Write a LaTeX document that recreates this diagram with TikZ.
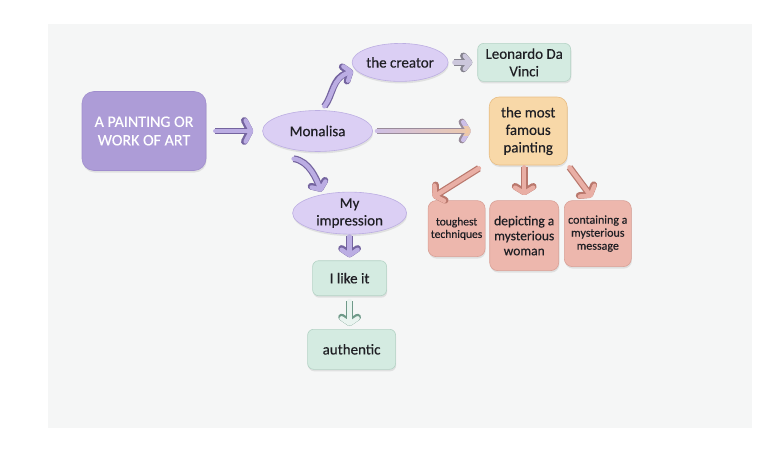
\documentclass[tikz,border=0pt]{standalone}
\usepackage{fontspec}
\setmainfont{Carlito}[FakeBold=0.35]
\usetikzlibrary{arrows.meta, positioning, calc, shapes.geometric, shadows, fadings}

\definecolor{panel}{HTML}{F5F6F6}
\definecolor{ink}{HTML}{1F1F24}
\definecolor{artfill}{HTML}{AD9CD7}
\definecolor{artline}{HTML}{A08ECE}
\definecolor{lilac}{HTML}{DBCFF4}
\definecolor{lilacline}{HTML}{BCAEE2}
\definecolor{mintfill}{HTML}{D4EBE1}
\definecolor{mintline}{HTML}{B4D3C5}
\definecolor{peach}{HTML}{F8D8A8}
\definecolor{peachline}{HTML}{E8BE85}
\definecolor{salmon}{HTML}{EDB7AD}
\definecolor{salmonline}{HTML}{D9A096}
\definecolor{purpline}{HTML}{74649F}
\definecolor{purpfill}{HTML}{BBADE3}
\definecolor{blendline}{HTML}{998B9A}
\definecolor{blendfill}{HTML}{CDBFE8}
\definecolor{peachfill}{HTML}{F3CBA0}
\definecolor{greyline}{HTML}{85838F}
\definecolor{greyfill}{HTML}{CCC7DC}
\definecolor{redline}{HTML}{B9786D}
\definecolor{redfill}{HTML}{E9AFA5}
\definecolor{mintaline}{HTML}{6F9A89}
\definecolor{mintafill}{HTML}{EAF4F0}

\tikzfading[name=grow right, left color=transparent!100, right color=transparent!0]

\tikzset{
  fat/.style n args={3}{line width=4.4pt, line cap=round, draw=#2,
    -{Straight Barb[round, length=5.5pt, width=#3]},
    preaction={draw=#1, line width=6.8pt,
      -{Straight Barb[round, length=5.5pt, width=#3]}}}
}

\begin{document}
\begin{tikzpicture}[x=1pt, y=-1pt,
  box/.style={draw, rounded corners=6pt, align=center, inner sep=2pt,
              text=ink, line width=0.6pt, font=\fontsize{15}{17.5}\selectfont,
              drop shadow={shadow xshift=0.6pt, shadow yshift=-2pt, opacity=0.18}},
  oval/.style={box, ellipse, fill=lilac, draw=lilacline, inner sep=0pt},
  mintbox/.style={box, fill=mintfill, draw=mintline},
  redbox/.style={box, fill=salmon, draw=salmonline, rounded corners=8pt}]
\fill[white] (0,0) rectangle (778,450);
\fill[panel] (48,24) rectangle (752,428);

\node[box, fill=artfill, draw=artline, text=white, minimum width=124pt,
      minimum height=79pt, rounded corners=12pt,
      font=\fontsize{16}{18.5}\selectfont] (art) at (144,131) {A PAINTING OR\\ WORK OF ART};
\node[oval, minimum width=110pt, minimum height=41pt, right=56pt of art] (mona) {Monalisa};
\node[box, fill=peach, draw=peachline, minimum width=78pt, minimum height=68pt,
      rounded corners=10pt, right=116pt of mona] (famous) {the most\\ famous\\ painting};
\node[mintbox, minimum width=93pt, minimum height=38pt, above=15pt of famous,
      xshift=-4pt] (leo) {Leonardo Da\\ Vinci};
\node[oval, minimum width=96pt, minimum height=38pt, left=29pt of leo] (creator) {the creator};
\node[oval, minimum width=114pt, minimum height=42pt, below=40pt of mona,
      xshift=32pt] (impr) {My\\ impression};
\node[mintbox, minimum width=74pt, minimum height=35pt, below=26pt of impr] (like) {I like it};
\node[mintbox, minimum width=88pt, minimum height=40pt, below=33pt of like,
      xshift=2pt] (auth) {authentic};
\node[redbox, minimum width=69pt, minimum height=70pt, below=35pt of famous,
      xshift=-4pt, font=\fontsize{13.5}{15}\selectfont] (woman) {depicting a\\ mysterious\\ woman};
\node[redbox, minimum width=57pt, minimum height=56pt, left=4pt of woman.north west,
      anchor=north east, font=\fontsize{11.5}{12.5}\selectfont] (tough) {toughest\\ techniques};
\node[redbox, minimum width=67pt, minimum height=66pt, right=5pt of woman.north east,
      anchor=north west, font=\fontsize{12}{13}\selectfont] (msg) {containing a\\ mysterious\\ message};

% connectors
\draw[fat={purpline}{purpfill}{21pt}, shorten <=9pt, shorten >=9pt] (art) -- (mona);
\draw[fat={blendline}{blendfill}{18pt}, shorten <=4pt, shorten >=18pt,
      postaction={draw=peachfill, line width=4.4pt, path fading=grow right,
                  -{Straight Barb[round, length=5.5pt, width=18pt]}}] (mona) -- (famous);
\draw[fat={greyline}{greyfill}{13pt}, shorten <=6pt, shorten >=5pt] (creator) -- (leo);
\draw[fat={purpline}{purpfill}{15pt}, shorten <=5pt, shorten >=3pt]
  (mona.80) .. controls +(12,-15) and +(-24,8) .. (creator.190);
\draw[fat={purpline}{purpfill}{15pt}, shorten >=3pt]
  ([yshift=-9pt]mona.218) .. controls +(16,2) and +(-6,-14) .. (impr.145);
\draw[fat={purpline}{purpfill}{16pt}, shorten <=2pt, shorten >=3pt] (impr) -- (like);
\draw[fat={mintaline}{mintafill}{16pt}, shorten <=5pt, shorten >=3pt]
  (like.south) -- (like.south |- auth.north);
\draw[fat={redline}{redfill}{18pt}, shorten <=2pt, shorten >=5pt]
  (famous.south -| woman) -- (woman.north);
\draw[fat={redline}{redfill}{18pt}]
  ([shift={(-10,3)}]famous.south west) -- ([shift={(5,-3)}]tough.north west);
\draw[fat={redline}{redfill}{18pt}]
  ([shift={(2,2)}]famous.south east) -- ([shift={(-6,-3)}]msg.north);
\end{tikzpicture}
\end{document}
